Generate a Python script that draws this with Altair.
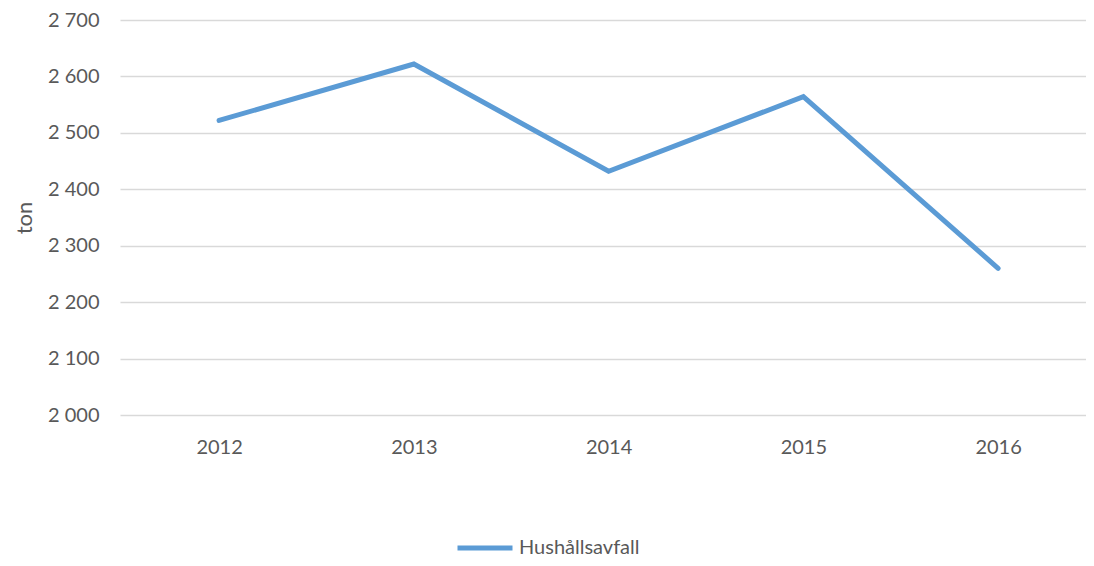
import altair as alt
import pandas as pd

years = ["2012", "2013", "2014", "2015", "2016"]
values = [2522, 2622, 2432, 2564, 2260]
series = ["Hushållsavfall"] * 5

df = pd.DataFrame({"År": years, "ton": values, "serie": series})

FONT = "Lato"
GREY = "#595959"
FS = 20

chart = alt.Chart(df).mark_line(strokeWidth=5, strokeCap="round", strokeJoin="miter").encode(
    x=alt.X("År:O", sort=years,
            scale=alt.Scale(type="point", padding=0.48, align=0.53),
            axis=alt.Axis(title=None, labelAngle=0, ticks=False, domain=False, grid=False,
                          labelPadding=22, labelFontSize=FS, labelColor=GREY, labelFont=FONT)),
    y=alt.Y("ton:Q", scale=alt.Scale(domain=[2000, 2700], nice=False, zero=False),
            axis=alt.Axis(title="ton", values=[2000, 2100, 2200, 2300, 2400, 2500, 2600, 2700],
                          labelExpr="replace(format(datum.value, ','), ',', ' ')",
                          ticks=False, domain=False, grid=True, gridColor="#d9d9d9", gridWidth=1.5,
                          labelPadding=21, labelFontSize=FS, labelColor=GREY, labelFont=FONT,
                          titleFontSize=22, titleColor=GREY, titleFont=FONT, titleFontWeight="normal",
                          titlePadding=11)),
    color=alt.Color("serie:N", scale=alt.Scale(range=["#5b9bd5"]),
                    legend=alt.Legend(title=None, orient="none", legendX=335, legendY=498,
                                      symbolType="stroke", symbolSize=3025, symbolStrokeWidth=5,
                                      labelFontSize=FS, labelColor=GREY, labelFont=FONT,
                                      labelOffset=4)),
).properties(
    width=966, height=395,
    autosize=alt.AutoSizeParams(type="none"),
    padding={"left": 112, "top": 12, "right": 0, "bottom": 143},
).configure_view(stroke=None)

chart.save("out.html", embed_options={"renderer": "svg", "actions": False})
